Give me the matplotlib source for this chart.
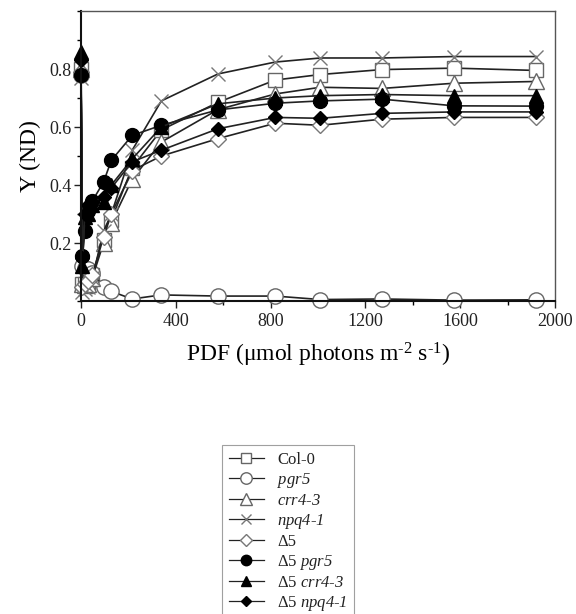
import matplotlib
matplotlib.use("Agg")
import matplotlib.pyplot as plt
from matplotlib.ticker import MultipleLocator

plt.rcParams['font.family'] = ['Liberation Serif', 'DejaVu Serif']
plt.rcParams['mathtext.fontset'] = 'custom'
plt.rcParams['mathtext.rm'] = 'Liberation Serif'
plt.rcParams['mathtext.it'] = 'Liberation Serif:italic'
plt.rcParams['mathtext.sf'] = 'Liberation Serif:italic'

pfd = [0, 6, 16, 31, 48, 95, 128, 216, 339, 578, 820, 1010, 1270, 1575, 1920]

col0 = [0.80, 0.06, 0.06, 0.065, 0.09, 0.21, 0.28, 0.46, 0.59, 0.685, 0.762, 0.781, 0.798, 0.803, 0.795]
pgr5 = [0.78, 0.12, 0.115, 0.11, 0.095, 0.05, 0.033, 0.007, 0.021, 0.017, 0.017, 0.005, 0.007, 0.003, 0.004]
crr43 = [0.80, 0.06, 0.055, 0.06, 0.08, 0.20, 0.27, 0.42, 0.548, 0.66, 0.714, 0.737, 0.733, 0.751, 0.757]
npq41 = [0.77, 0.03, 0.04, 0.05, 0.08, 0.24, 0.30, 0.52, 0.69, 0.783, 0.824, 0.838, 0.838, 0.843, 0.843]
d5 = [0.79, 0.05, 0.06, 0.07, 0.09, 0.22, 0.30, 0.45, 0.50, 0.56, 0.613, 0.606, 0.627, 0.633, 0.633]
d5pgr5 = [0.78, 0.155, 0.24, 0.31, 0.345, 0.41, 0.485, 0.571, 0.606, 0.659, 0.682, 0.69, 0.696, 0.673, 0.672]
d5crr43 = [0.86, 0.12, 0.29, 0.30, 0.33, 0.34, 0.40, 0.49, 0.60, 0.68, 0.70, 0.708, 0.712, 0.708, 0.708]
d5npq41 = [0.83, 0.15, 0.30, 0.33, 0.34, 0.36, 0.39, 0.48, 0.52, 0.594, 0.633, 0.63, 0.647, 0.652, 0.652]

labels = ['Col-0',
          '$\\mathsf{pgr5}$',
          '$\\mathsf{crr4\u2010 3}$',
          '$\\mathsf{npq4\u2010 1}$',
          '\u03945',
          '\u03945 $\\mathsf{pgr5}$',
          '\u03945 $\\mathsf{crr4\u2010 3}$',
          '\u03945 $\\mathsf{npq4\u2010 1}$']
series = [col0, pgr5, crr43, npq41, d5, d5pgr5, d5crr43, d5npq41]
styles = [
    dict(marker='s', mfc='white', mec='#666666', ms=10),
    dict(marker='o', mfc='white', mec='#666666', ms=11),
    dict(marker='^', mfc='white', mec='#666666', ms=11),
    dict(marker='x', mfc='none', mec='#777777', ms=10, mew=1.0),
    dict(marker='D', mfc='white', mec='#777777', ms=8),
    dict(marker='o', mfc='black', mec='black', ms=10),
    dict(marker='^', mfc='black', mec='black', ms=10),
    dict(marker='D', mfc='black', mec='black', ms=7),
]

fig = plt.figure(figsize=(5.76, 6.14), dpi=100)
ax = fig.add_axes([81/576, 1-301/614, 474/576, 290/614])

handles = []
for y, lab, st in zip(series, labels, styles):
    h, = ax.plot(pfd, y, color='#222222', lw=1.2, label=lab, clip_on=False, **st)
    handles.append(h)

ax.set_xlim(0, 2000)
ax.set_ylim(0, 1.0)
ax.xaxis.set_major_locator(MultipleLocator(400))
ax.xaxis.set_minor_locator(MultipleLocator(200))
ax.set_yticks([0.2, 0.4, 0.6, 0.8])
ax.set_yticklabels(['0.2', '0.4', '0.6', '0.8'])
ax.yaxis.set_minor_locator(MultipleLocator(0.1))
ax.tick_params(axis='both', which='major', direction='out', length=5, width=1, labelsize=13, colors='#222222')
ax.tick_params(axis='both', which='minor', direction='out', length=3, width=1)
ax.tick_params(axis='y', pad=2)

for s in ['left', 'bottom']:
    ax.spines[s].set_linewidth(1.5)
    ax.spines[s].set_color('#111111')
for s in ['top', 'right']:
    ax.spines[s].set_linewidth(1.0)
    ax.spines[s].set_color('#555555')

ax.set_xlabel('PDF (\u03bcmol photons m$^{\\text{-}2}$ s$^{\\text{-}1}$)', fontsize=17, labelpad=8)
ax.set_ylabel('Y (ND)', fontsize=17, labelpad=6)

leg = fig.legend(handles=handles, loc='upper left', bbox_to_anchor=(222/576, 1-445/614),
                 borderaxespad=0,
                 fontsize=12, frameon=True, fancybox=False, edgecolor='#888888',
                 handlelength=2.1, handletextpad=0.8, labelspacing=0.18, borderpad=0.4,
                 markerscale=0.75)
leg.get_frame().set_linewidth(0.8)
for t in leg.get_texts():
    t.set_color('#222222')
for lh in leg.get_lines():
    lh.set_linewidth(0.9)

fig.savefig('out.png', dpi=100)
